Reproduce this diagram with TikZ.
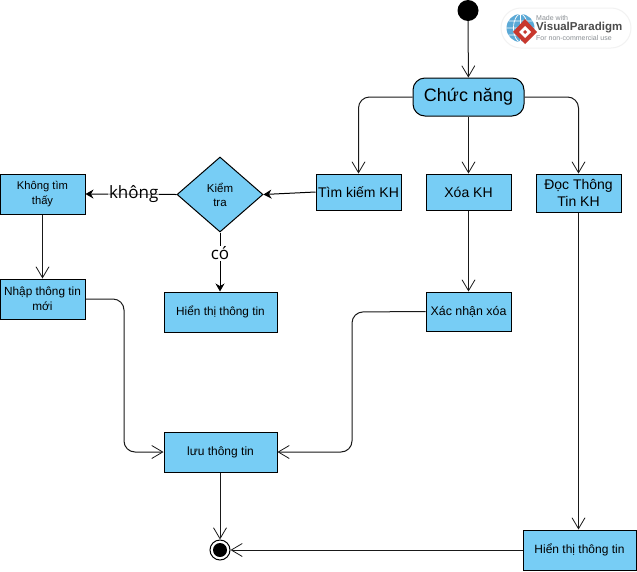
\documentclass[tikz,border=0pt]{standalone}
\usepackage{fontspec}
\setmainfont{Liberation Sans}
\newfontfamily\labelfont{Open Sans}
\usetikzlibrary{arrows.meta,shapes.geometric,positioning}
\definecolor{boxblue}{HTML}{77CDF5}
\definecolor{vpgray}{HTML}{8A8F94}
\definecolor{vpblue}{HTML}{5BA9D6}
\definecolor{vpred}{HTML}{C8382E}
\tikzset{
  x=1pt,y=-1pt,
  box/.style={draw=black,line width=1pt,fill=boxblue,minimum width=#1,inner sep=1pt,align=center,font=\fontsize{14}{17}\selectfont},
  box/.default=85pt,
  conn/.style={draw=black!90,line width=1pt,-{Straight Barb[length=11pt,width=13pt,line width=0.8pt]}},
  solidconn/.style={draw=black,line width=1pt,-{Stealth[length=8pt,width=9pt]}},
  roundbend/.style={rounded corners=11pt},
  edgelabel/.style={fill=white,inner sep=1pt,font=\labelfont\fontsize{17}{17}\selectfont},
}
\begin{document}
\begin{tikzpicture}
\useasboundingbox (0,0) rectangle (637,571);
\fill[white] (0,0) rectangle (637,571);

% Logo
\fill[white,draw=black!5,line width=1pt,rounded corners=20pt] (501,8) rectangle (631,48);
\fill[vpblue] (520.5,28) circle (14);
\draw[white,line width=0.7pt] (506.5,28) -- (534.5,28) (508.5,21) -- (532.5,21) (508.5,35) -- (532.5,35)
  (520.5,14) -- (520.5,42) (520.5,14) arc[start angle=-90,end angle=90,x radius=7,y radius=14]
  (520.5,14) arc[start angle=-90,end angle=-270,x radius=7,y radius=14];
\fill[vpred] (525,19) -- (537,32) -- (525,44) -- (513,32) -- cycle;
\fill[white] (525,26) -- (531,32) -- (525,38) -- (519,32) -- cycle;
\fill[vpred] (525,30) -- (527,32) -- (525,34) -- (523,32) -- cycle;
\node[anchor=west,inner sep=0pt,text=vpgray,font=\fontsize{7}{7}\selectfont] (logoa) at (536,18) {Made with};
\node[anchor=west,inner sep=0pt,text=black!70,font=\bfseries\fontsize{11.5}{12}\selectfont] (logob) at (536,27.5) {VisualParadigm};
\node[anchor=west,inner sep=0pt,text=vpgray,font=\fontsize{7}{7}\selectfont] (logoc) at (536,38) {For non-commercial use};

% Nodes
\node[circle,fill=black,minimum size=21pt,inner sep=0pt] (start) at (468,10.5) {};
\node[box=111pt,minimum height=38pt,rounded corners=12pt,font=\fontsize{18}{18}\selectfont] (func) at (468.5,97) {Chức năng};
\node[box,minimum height=36pt] (search) at (358.5,192) {Tìm kiếm KH};
\node[box,minimum height=36pt] (del) at (468.5,192) {Xóa KH};
\node[box,minimum height=38pt] (read) at (578.5,193) {Đọc Thông\\Tin KH};
\node[diamond,draw=black,line width=1pt,fill=boxblue,minimum width=86pt,minimum height=75pt,inner sep=0pt,align=center,font=\fontsize{11.5}{14}\selectfont] (check) at (220,194.5) {Kiểm\\tra};
\node[box,minimum height=40pt,font=\fontsize{11.2}{15.5}\selectfont] (nf) at (42.5,194) {Không tìm\\thấy};
\node[box,minimum height=40pt,font=\fontsize{11.8}{15.5}\selectfont] (inp) at (42.5,299) {Nhập thông tin\\mới};
\node[box=113pt,minimum height=40pt,font=\fontsize{11.8}{15}\selectfont] (show) at (220.5,312) {Hiển thị thông tin};
\node[box,minimum height=39pt,font=\fontsize{12.4}{15}\selectfont] (confirm) at (468.5,311.5) {Xác nhận xóa};
\node[box=113pt,minimum height=40pt,font=\fontsize{12}{15}\selectfont] (save) at (220.5,452) {lưu thông tin};
\node[box=113pt,minimum height=40pt,font=\fontsize{12}{15}\selectfont] (showb) at (579.5,550) {Hiển thị thông tin};
\node[circle,draw=black,fill=white,line width=1pt,minimum size=20pt,inner sep=0pt] (end) at (220,550) {};
\node[circle,fill=black,minimum size=14pt,inner sep=0pt] (endin) at (220,550) {};

% Connectors
\draw[conn] (start) -- (func);
\draw[conn,roundbend] (func.west) -| (search.north);
\draw[conn] (func.south) -- (del.north);
\draw[conn,roundbend] (func.east) -| (read.north);
\draw[conn] (del) -- (confirm);
\draw[conn] (read) -- (read |- showb.north);
\draw[solidconn] (search.west) -- (check.east);
\draw[solidconn] (check.west) -- node[edgelabel,pos=0.47,fill opacity=0.6,text opacity=1] {không} (nf.east);
\draw[solidconn] (check.south) -- node[edgelabel,pos=0.35] {có} (show.north -| check.south);
\draw[conn] (nf) -- (inp);
\draw[conn,roundbend] (inp.east) -- (124,299) -- (124,452) -- (save.west);
\draw[conn,roundbend] (confirm.west) -- (352,312) -- (352,452) -- (save.east);
\draw[conn] (save.south -| end) -- (end);
\draw[conn] (showb.west) -- (end);
\end{tikzpicture}
\end{document}
